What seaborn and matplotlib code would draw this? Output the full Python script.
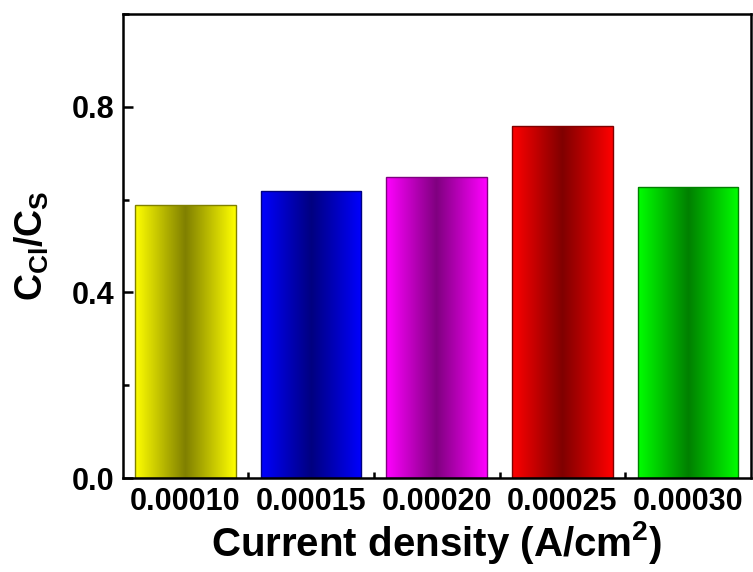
import numpy as np
import pandas as pd
import matplotlib
matplotlib.use('Agg')
import matplotlib.pyplot as plt
import seaborn as sns
from matplotlib.colors import LinearSegmentedColormap
from matplotlib.ticker import MultipleLocator

current_density = ['0.00010', '0.00015', '0.00020', '0.00025', '0.00030']
ratio = [0.588, 0.619, 0.649, 0.759, 0.628]
light_colors = ['#ffff00', '#0000ff', '#ff00ff', '#ff0000', '#00ff00']
dark_colors = ['#808000', '#000080', '#800080', '#800000', '#008000']

sns.set_style('ticks')
plt.rcParams['font.family'] = ['Liberation Sans', 'DejaVu Sans']
plt.rcParams['font.weight'] = 'bold'
plt.rcParams['text.color'] = 'black'
plt.rcParams['axes.labelcolor'] = 'black'
plt.rcParams['xtick.color'] = 'black'
plt.rcParams['ytick.color'] = 'black'
plt.rcParams['mathtext.fontset'] = 'custom'
plt.rcParams['mathtext.rm'] = 'Liberation Sans:bold'
plt.rcParams['mathtext.it'] = 'Liberation Sans:bold'
plt.rcParams['mathtext.bf'] = 'Liberation Sans:bold'

df = pd.DataFrame({'cd': current_density, 'ratio': ratio})

fig = plt.figure(figsize=(7.53, 5.72), dpi=100)
ax = fig.add_axes([0.163, 0.164, 0.834, 0.812])

sns.barplot(data=df, x='cd', y='ratio', hue='cd', palette=light_colors,
            width=0.8, legend=False, ax=ax, saturation=1)

# horizontal gradient fill: light at edges, dark in middle
grad = np.abs(np.linspace(-1, 1, 256)).reshape(1, -1)
for patch, lc, dc in zip(ax.patches, light_colors, dark_colors):
    x0 = patch.get_x()
    w = patch.get_width()
    h = patch.get_height()
    cmap = LinearSegmentedColormap.from_list('g', [dc, lc])
    im = ax.imshow(grad, cmap=cmap, aspect='auto', extent=(x0, x0 + w, 0, h),
                   zorder=patch.get_zorder(), interpolation='bicubic')
    im.set_clip_path(patch)
    patch.set_edgecolor(dc)
    patch.set_linewidth(1.0)
    patch.set_facecolor('none')
    patch.set_zorder(patch.get_zorder() + 0.1)

ax.set_xlim(-0.5, 4.5)
ax.set_ylim(0, 1.0)
ax.yaxis.set_major_locator(MultipleLocator(0.4))
ax.yaxis.set_minor_locator(MultipleLocator(0.2))
ax.set_xticks(np.arange(5))
ax.set_xticks(np.arange(0.5, 4.5, 1.0), minor=True)
ax.set_xticklabels(current_density)

for s in ax.spines.values():
    s.set_visible(True)
    s.set_linewidth(1.8)
    s.set_color('black')

ax.tick_params(axis='both', which='major', direction='in', length=7, width=1.8,
               labelsize=22, top=False, right=False, pad=6, colors='black')
ax.tick_params(axis='both', which='minor', direction='in', length=4, width=1.8,
               top=False, right=False, colors='black')
for lab in ax.get_xticklabels() + ax.get_yticklabels():
    lab.set_fontweight('bold')

ax.set_xlabel('Current density (A/cm$^2$)', fontsize=29, fontweight='bold', labelpad=2)
ax.set_ylabel('$C_{Cl}/C_S$', fontsize=27, fontweight='bold', labelpad=15)

fig.savefig('out.png', dpi=100)
